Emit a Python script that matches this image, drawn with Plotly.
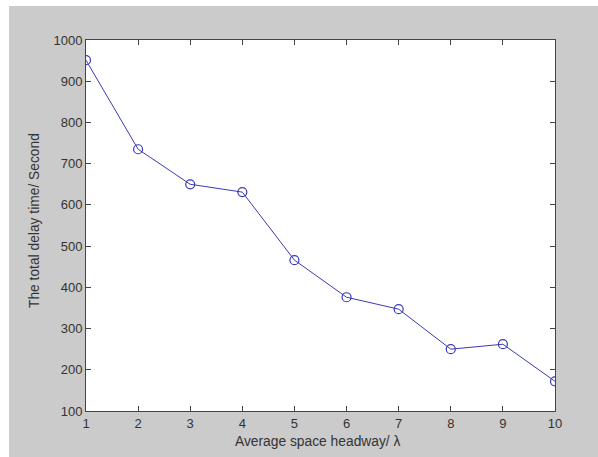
import plotly.graph_objects as go

headway = [1, 2, 3, 4, 5, 6, 7, 8, 9, 10]
delay_time = [951, 735, 650, 631, 466, 376, 347, 250, 262, 172]
x_ticks = [1, 2, 3, 4, 5, 6, 7, 8, 9, 10]
y_ticks = [100, 200, 300, 400, 500, 600, 700, 800, 900, 1000]

W, H = 598, 457
L, R, T, B = 86, 43, 40, 46
pw, ph = W - L - R, H - T - B

def px(xp):
    return (xp - L) / pw

def py(yp):
    return (H - B - yp) / ph

FONT = dict(family="Liberation Sans, Arial", size=13, color="#333333")
TFONT = dict(family="Liberation Sans, Arial", size=13.8, color="#333333")

fig = go.Figure()
fig.add_trace(go.Scatter(
    x=headway, y=delay_time, mode="lines+markers",
    line=dict(color="#3a3ab4", width=1),
    marker=dict(symbol="circle-open", size=9, color="#3a3ab4", line=dict(width=1.2)),
    showlegend=False,
))

axis_common = dict(
    showline=True, linecolor="#444444", linewidth=1, mirror="ticks",
    ticks="inside", ticklen=5, tickcolor="#444444", tickwidth=1,
    showgrid=False, zeroline=False, automargin=False,
    tickfont=FONT,
)

fig.update_layout(
    width=W, height=H,
    margin=dict(l=L, r=R, t=T, b=B, autoexpand=False),
    paper_bgcolor="#cbcbcb", plot_bgcolor="white",
    xaxis=dict(range=[1, 10], tickvals=x_ticks, ticktext=[str(v) for v in x_ticks],
               **axis_common),
    yaxis=dict(range=[100, 1000], tickvals=y_ticks, ticktext=[str(v) for v in y_ticks],
               **axis_common),
    annotations=[
        dict(text="Average space headway/ λ", xref="paper", yref="paper",
             x=px(318), y=py(441), xanchor="center", yanchor="middle",
             showarrow=False, font=TFONT),
        dict(text="The total delay time/ Second", xref="paper", yref="paper",
             x=px(35), y=py(221), xanchor="center", yanchor="middle",
             textangle=-90, showarrow=False, font=TFONT),
    ],
    shapes=[
        dict(type="rect", xref="paper", yref="paper", x0=px(0), x1=px(W), y0=py(6), y1=py(0),
             fillcolor="white", line=dict(width=0), layer="above"),
        dict(type="rect", xref="paper", yref="paper", x0=px(0), x1=px(9), y0=py(H), y1=py(0),
             fillcolor="white", line=dict(width=0), layer="above"),
    ],
)

fig.write_html("out.html")
